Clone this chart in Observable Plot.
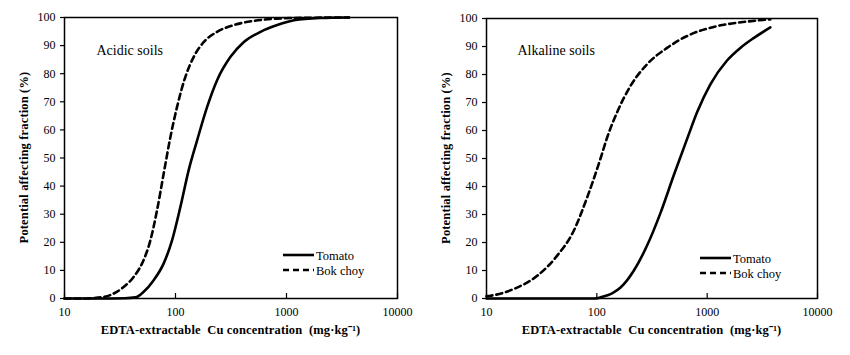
<!DOCTYPE html>
<html>
<head>
<meta charset="utf-8">
<script src="https://cdn.jsdelivr.net/npm/d3@7"></script>
<script src="https://cdn.jsdelivr.net/npm/@observablehq/plot@0.6"></script>
<style>
  body { margin: 0; background: #fff; }
  #wrap { display: flex; width: 850px; height: 355px; }
  .panel { width: 425px; height: 355px; position: relative; }
  #wrap svg, #wrap svg text { font-family: "Liberation Serif", "Times New Roman", serif !important; }
</style>
</head>
<body>
<div id="wrap"><div class="panel" id="p1"></div><div class="panel" id="p2"></div></div>
<script>
const xTicks = [10, 100, 1000, 10000];
const yTicks = [0, 10, 20, 30, 40, 50, 60, 70, 80, 90, 100];
const xTitle = "EDTA-extractable  Cu concentration  (mg·kg⁻¹)";
const yTitle = "Potential affecting fraction (%)";
const seriesNames = ["Tomato", "Bok choy"];

// Acidic soils
const acidTomatoX = [10, 20, 35, 43.5, 51.7, 63.6, 78.3, 93.1, 110.7, 131.5, 156.6, 192.8, 237, 313, 413, 584, 826, 1167, 2000, 3660];
const acidTomatoY = [0, 0, 0.1, 0.4, 2.4, 6.5, 12.5, 20.7, 32.6, 45.7, 56.3, 68.2, 77.7, 86, 91.3, 94.9, 97.3, 99, 99.8, 100];
const acidBokX = [10, 15, 20, 25.8, 34.1, 42, 50, 59.4, 68.2, 78.3, 90, 103.3, 122.8, 146, 180, 237, 335, 508, 826, 1500, 3660];
const acidBokY = [0, 0, 0.3, 1.2, 4.1, 7.7, 12.5, 20.7, 31.4, 44.5, 57.5, 68.2, 78.9, 86, 91.3, 94.9, 97.3, 98.8, 99.6, 99.9, 100];

// Alkaline soils
const alkTomatoX = [10, 50, 95, 108, 140, 164, 216, 286, 377, 498, 658, 810, 1069, 1514, 2000, 2638, 3737];
const alkTomatoY = [0, 0, 0, 0.4, 2, 3.9, 9.9, 19, 30.5, 44, 57, 66.5, 76.5, 85, 89.5, 93, 96.8];
const alkBokX = [10, 10.9, 17.7, 28.8, 43.7, 61.8, 81.7, 108, 124, 152.7, 201, 286, 433, 705, 1146, 2297, 3737];
const alkBokY = [0.8, 1, 3.4, 8.1, 15.3, 24.2, 36.1, 50, 57.5, 66.5, 75.8, 83.7, 89.5, 94.3, 97, 98.9, 99.7];

const toRows = (xs, ys) => xs.map((x, i) => ({x, y: ys[i]}));

function panel(el, label, tomato, bok, m, legendPos, labelPos) {
  const font = "Liberation Serif, Times New Roman, serif";
  const chart = Plot.plot({
    width: 425, height: 355,
    marginLeft: m.left, marginRight: m.right, marginTop: m.top, marginBottom: m.bottom,
    style: {fontFamily: font, fontSize: "12px", color: "#000", background: "#fff"},
    x: {type: "log", domain: [10, 10000]},
    y: {domain: [0, 100]},
    marks: [
      Plot.axisY({ticks: yTicks, tickSize: 4, tickPadding: 5, tickFormat: d => String(d), label: null, strokeWidth: 1.2}),
      Plot.axisX({ticks: xTicks, tickSize: -5, tickPadding: 14, tickFormat: d => String(d), label: null, strokeWidth: 1.2}),
      Plot.line(toRows(bok.x, bok.y), {x: "x", y: "y", stroke: "#000", strokeWidth: 2.6, strokeDasharray: "6,4", curve: "monotone-x"}),
      Plot.line(toRows(tomato.x, tomato.y), {x: "x", y: "y", stroke: "#000", strokeWidth: 2.6, curve: "monotone-x"}),
      Plot.frame({stroke: "#000", strokeWidth: 1.5}),
      Plot.text([label], {frameAnchor: "top-left", dx: labelPos[0], dy: labelPos[1], fontSize: 14, textAnchor: "start", fill: "#000"})
    ]
  });
  const svg = d3.select(chart);
  svg.append("text")
    .attr("x", m.left + (425 - m.left - m.right) / 2).attr("y", 334)
    .attr("text-anchor", "middle").attr("font-weight", "bold")
    .attr("font-size", 12.5).attr("letter-spacing", 0.15).attr("fill", "#000")
    .attr("xml:space", "preserve")
    .text(xTitle);
  svg.append("text")
    .attr("transform", `translate(${m.left - 36},${m.top + (355 - m.top - m.bottom) / 2}) rotate(-90)`)
    .attr("text-anchor", "middle").attr("font-weight", "bold")
    .attr("font-size", 12.5).attr("letter-spacing", 0.15).attr("fill", "#000")
    .text(yTitle);
  const lg = svg.append("g").attr("transform", `translate(${legendPos[0]},${legendPos[1]})`);
  seriesNames.forEach((name, i) => {
    lg.append("line").attr("x1", 0).attr("x2", 31).attr("y1", i * 15).attr("y2", i * 15)
      .attr("stroke", "#000").attr("stroke-width", 2.6)
      .attr("stroke-dasharray", i === 1 ? "6,4" : null);
    lg.append("text").attr("x", 33).attr("y", i * 15 + 4.5)
      .attr("text-anchor", "start")
      .attr("font-size", 12.5).attr("fill", "#000")
      .text(name);
  });
  document.getElementById(el).appendChild(chart);
}

panel("p1", "Acidic soils", {x: acidTomatoX, y: acidTomatoY}, {x: acidBokX, y: acidBokY},
  {left: 64, right: 28, top: 17, bottom: 57}, [283, 255], [32, 28]);
panel("p2", "Alkaline soils", {x: alkTomatoX, y: alkTomatoY}, {x: alkBokX, y: alkBokY},
  {left: 61, right: 33, top: 18, bottom: 57}, [275, 258], [31, 27]);
</script>
</body>
</html>
